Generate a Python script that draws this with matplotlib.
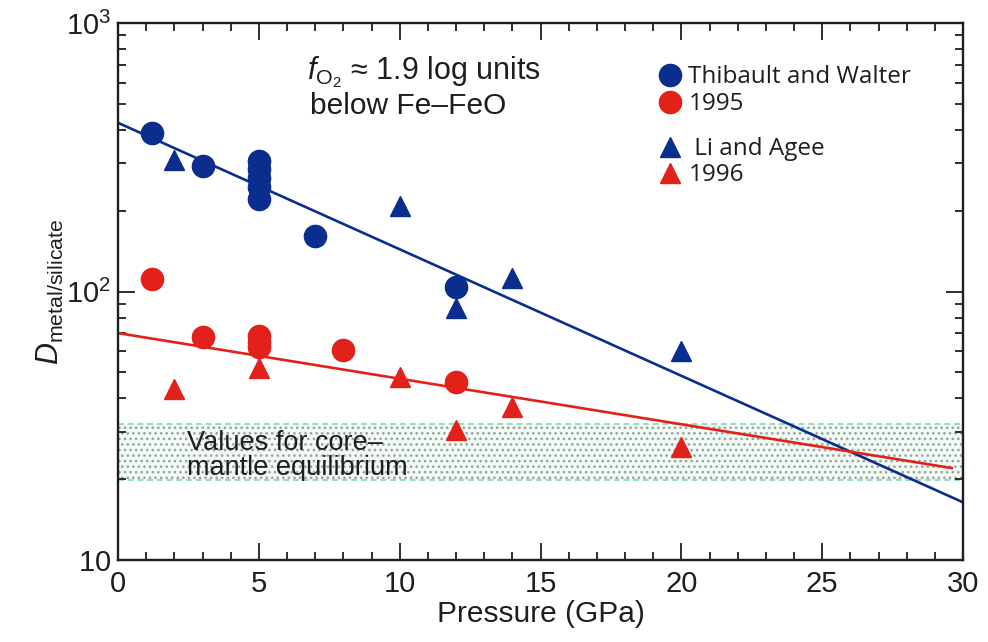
import matplotlib
matplotlib.use("Agg")
import matplotlib.pyplot as plt
from matplotlib.lines import Line2D
from matplotlib.ticker import FixedLocator, MultipleLocator, LogLocator, NullFormatter, FixedFormatter

plt.rcParams['font.family'] = ['Liberation Sans', 'DejaVu Sans']
plt.rcParams['mathtext.fontset'] = 'custom'
plt.rcParams['mathtext.rm'] = 'Liberation Sans'
plt.rcParams['mathtext.it'] = 'Liberation Sans:italic'
plt.rcParams['mathtext.bf'] = 'Liberation Sans:bold'
plt.rcParams['hatch.linewidth'] = 1.1

# ---- data ----
tw_x = [1.2, 3, 5, 5, 5, 5, 5, 7, 12]
tw_blue_y = [390, 294, 305, 285, 265, 245, 222, 161, 104]
tw_red_x = [1.2, 3, 5, 5, 5, 8, 12]
tw_red_y = [111, 67.5, 68, 65, 62, 60.4, 46]

la_blue_x = [2, 10, 12, 14, 20]
la_blue_y = [310, 209, 86.5, 112, 60]
la_red_x = [2, 5, 10, 12, 14, 20]
la_red_y = [43.5, 51.8, 47.9, 30.6, 37, 26.3]

blue_fit_x = [0, 30]
blue_fit_y = [425, 16.4]
red_fit_x = [0, 29.6]
red_fit_y = [70, 22]

band_x = [0, 30]
band_low = 19.8
band_high = 32

legend_labels = ["Thibault and Walter", "1995", " Li and Agee", "1996"]
x_ticks = [0, 5, 10, 15, 20, 25, 30]
y_ticks = [10, 100, 1000]
y_tick_labels = [r'$\mathregular{10}$', r'$\mathregular{10^2}$', r'$\mathregular{10^3}$']

BLUE = '#0b2d8e'
RED = '#e3211b'
INK = '#1e1e1e'

fig = plt.figure(figsize=(9.88, 6.42), dpi=100)
ax = fig.add_axes([118/988, 1-560/642, (963-118)/988, (560-23)/642])

# band
ax.fill_between(band_x, band_low, band_high, facecolor='#f1faf5', edgecolor='none', zorder=0)
ax.fill_between(band_x, band_low, band_high, facecolor='none', edgecolor='#9aa29c',
                hatch='...', linewidth=0, zorder=0.5)
ax.plot(band_x, [band_high]*2, color='#95dcc0', lw=1.4, ls=(0, (3, 2)), zorder=0.6)
ax.plot(band_x, [band_low]*2, color='#95dcc0', lw=1.4, ls=(0, (3, 2)), zorder=0.6)

# fit lines
ax.plot(blue_fit_x, blue_fit_y, color=BLUE, lw=1.9, zorder=2)
ax.plot(red_fit_x, red_fit_y, color=RED, lw=1.9, zorder=2)

# points
ax.plot(tw_x, tw_blue_y, 'o', color=BLUE, ms=16, mec=BLUE, zorder=3)
ax.plot(tw_red_x, tw_red_y, 'o', color=RED, ms=16, mec=RED, zorder=3)
ax.plot(la_blue_x, la_blue_y, '^', color=BLUE, ms=14.5, mec=BLUE, zorder=3)
ax.plot(la_red_x, la_red_y, '^', color=RED, ms=14.5, mec=RED, zorder=3)

ax.set_yscale('log')
ax.set_xlim(0, 30)
ax.set_ylim(10, 1000)

ax.xaxis.set_major_locator(FixedLocator(x_ticks))
ax.xaxis.set_minor_locator(MultipleLocator(1))
ax.yaxis.set_major_locator(FixedLocator(y_ticks))
ax.yaxis.set_major_formatter(FixedFormatter(y_tick_labels))
ax.yaxis.set_minor_locator(LogLocator(base=10, subs=range(2, 10)))
ax.yaxis.set_minor_formatter(NullFormatter())

ax.tick_params(which='both', direction='in', top=True, right=True, width=1.3, colors=INK)
ax.tick_params(which='major', length=12, labelsize=21, pad=5)
ax.tick_params(which='minor', length=6)
ax.tick_params(axis='x', which='major', pad=7)
for s in ax.spines.values():
    s.set_linewidth(1.7)
    s.set_color(INK)

ax.set_xlabel('Pressure (GPa)', fontsize=21.5, labelpad=2, color=INK)
ax.set_ylabel(r'$\mathit{D}_{\mathregular{metal/silicate}}$', fontsize=22, labelpad=0, color=INK)

ax.text(2.45, 24.6, 'Values for core–\nmantle equilibrium', fontsize=19.5, color=INK,
        va='center', ha='left', linespacing=0.95, zorder=4)

fig.text(307/988, 1-72/642, r'$\mathit{f}_{\mathregular{O_2}}$ ≈ 1.9 log units', fontsize=22,
         va='center', ha='left', color=INK)
fig.text(310/988, 1-106/642, 'below Fe–FeO', fontsize=21.5, va='center', ha='left', color=INK)

lprop = {'family': 'Open Sans', 'size': 17.5}
h1 = [Line2D([], [], ls='none', marker='o', color=BLUE, ms=16),
      Line2D([], [], ls='none', marker='o', color=RED, ms=16)]
h2 = [Line2D([], [], ls='none', marker='^', color=BLUE, ms=15),
      Line2D([], [], ls='none', marker='^', color=RED, ms=15)]
leg1 = fig.legend(h1, legend_labels[:2], loc='upper left', bbox_to_anchor=(647/988, 1-53/642),
                  frameon=False, prop=lprop, labelcolor=INK,
                  handlelength=0.9, handletextpad=0.3, labelspacing=0.12, borderpad=0)
leg2 = fig.legend(h2, legend_labels[2:], loc='upper left', bbox_to_anchor=(647/988, 1-125/642),
                  frameon=False, prop=lprop, labelcolor=INK,
                  handlelength=0.9, handletextpad=0.3, labelspacing=0.08, borderpad=0)

fig.savefig('out.png', dpi=100)
